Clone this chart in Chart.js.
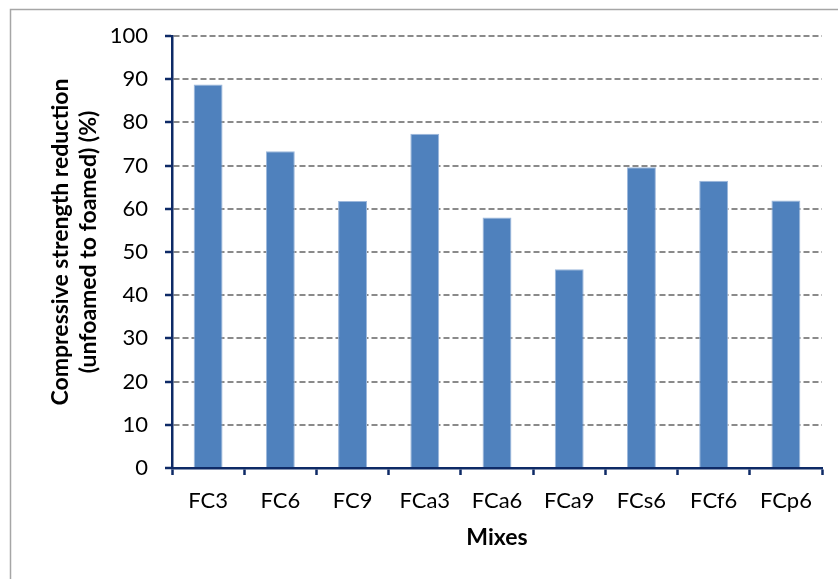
<!DOCTYPE html>
<html>
<head>
<meta charset="utf-8">
<script src="https://cdn.jsdelivr.net/npm/chart.js@4/dist/chart.umd.min.js"></script>
<style>
  html, body { margin: 0; padding: 0; background: #ffffff; }
  #wrap { width: 838px; height: 579px; position: relative; }
</style>
</head>
<body>
<div id="wrap"><canvas id="chart" width="838" height="579"></canvas></div>
<script>
// Mixes and their compressive strength reduction, unfoamed -> foamed (%)
const mixes = ['FC3', 'FC6', 'FC9', 'FCa3', 'FCa6', 'FCa9', 'FCs6', 'FCf6', 'FCp6'];
const strengthReduction = [88.8, 73.3, 61.8, 77.4, 58.0, 46.0, 69.6, 66.5, 61.9];
const yTicks = [0, 10, 20, 30, 40, 50, 60, 70, 80, 90, 100];
const xTitle = 'Mixes';
const yTitle = ['Compressive strength reduction', '(unfoamed to foamed) (%)'];

const FONT = 'Lato, "Liberation Sans", sans-serif';
const NAVY = '#0e2a66';

// Frame around the chart area and the axis captions
const decorations = {
  id: 'decorations',
  beforeDraw(chart) {
    const ctx = chart.ctx;
    ctx.save();
    ctx.fillStyle = '#ffffff';
    ctx.fillRect(0, 0, chart.width, chart.height);
    ctx.strokeStyle = '#a6a6a6';
    ctx.lineWidth = 1.5;
    ctx.beginPath();
    ctx.moveTo(10.5, chart.height);
    ctx.lineTo(10.5, 9.5);
    ctx.lineTo(chart.width, 9.5);
    ctx.stroke();
    ctx.restore();
  },
  afterDraw(chart) {
    const ctx = chart.ctx;
    const area = chart.chartArea;
    ctx.save();
    ctx.fillStyle = '#000000';
    ctx.font = 'bold 23px ' + FONT;
    ctx.textAlign = 'center';
    ctx.textBaseline = 'middle';
    ctx.fillText(xTitle, (area.left + area.right) / 2, 538);
    ctx.translate(75, 242);
    ctx.rotate(-Math.PI / 2);
    ctx.fillText(yTitle[0], 0, -14);
    ctx.fillText(yTitle[1], 0, 14);
    ctx.restore();
  }
};

new Chart(document.getElementById('chart'), {
  type: 'bar',
  data: {
    labels: mixes,
    datasets: [{
      data: strengthReduction,
      backgroundColor: '#4f81bd',
      borderColor: '#9db8dc',
      borderWidth: 1,
      barPercentage: 0.4,
      categoryPercentage: 1.0
    }]
  },
  options: {
    responsive: false,
    animation: false,
    devicePixelRatio: 1,
    layout: { padding: { top: 36, right: 16, left: 0, bottom: 0 } },
    plugins: {
      legend: { display: false },
      tooltip: { enabled: false }
    },
    scales: {
      x: {
        afterFit(scale) { scale.height = 111; },
        grid: {
          offset: true,
          drawOnChartArea: false,
          drawTicks: true,
          tickLength: 7,
          tickColor: NAVY,
          tickWidth: 2.5
        },
        border: { display: true, color: NAVY, width: 2.5 },
        ticks: {
          color: '#000000',
          padding: 13,
          maxRotation: 0,
          font: { family: FONT, size: 22 }
        }
      },
      y: {
        min: 0,
        max: 100,
        afterFit(scale) { scale.width = 172; },
        afterBuildTicks(scale) { scale.ticks = yTicks.map(v => ({ value: v })); },
        grid: {
          color: '#8a8a8a',
          lineWidth: 2,
          drawTicks: true,
          tickLength: 7,
          tickColor: NAVY,
          tickWidth: 2.5,
          tickBorderDash: []
        },
        border: { display: true, color: NAVY, width: 2.5, dash: [6, 3] },
        ticks: {
          color: '#000000',
          padding: 17,
          font: { family: FONT, size: 22 }
        }
      }
    }
  },
  plugins: [decorations]
});
</script>
</body>
</html>
